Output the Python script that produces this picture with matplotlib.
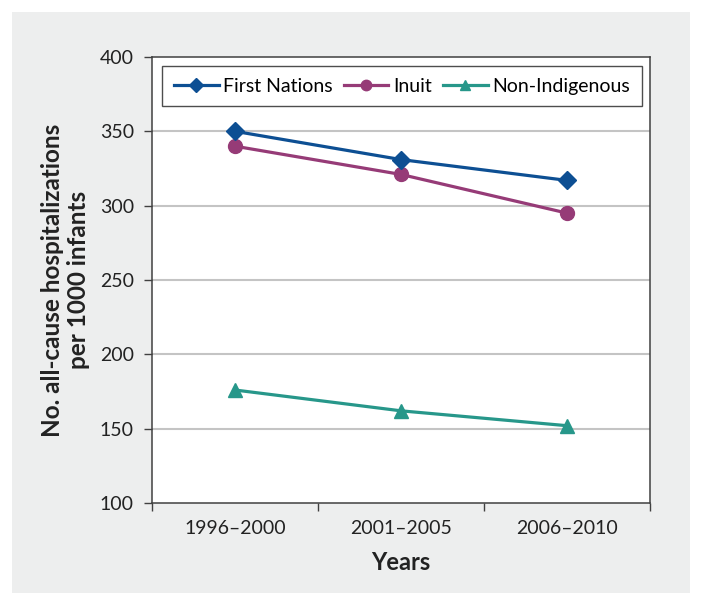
import matplotlib.pyplot as plt
from matplotlib.patches import Rectangle

# data
periods = ["1996\u20132000", "2001\u20132005", "2006\u20132010"]
first_nations = [350, 331, 317]
inuit = [340, 321, 295]
non_indigenous = [176, 162, 152]

plt.rcParams['font.family'] = ['Lato', 'DejaVu Sans']

fig = plt.figure(figsize=(7.03, 6.06), dpi=100)

# grey panel behind the plot
fig.patches.append(Rectangle((12 / 703, 1 - 593 / 606), (690 - 12) / 703, (593 - 12) / 606,
                             transform=fig.transFigure, facecolor='#edeeee',
                             edgecolor='none', zorder=-1))

ax = fig.add_axes([152 / 703, 1 - 503 / 606, (650 - 152) / 703, (503 - 57) / 606])
ax.set_facecolor('white')

x = range(len(periods))
ax.plot(x, first_nations, color='#0d4f93', lw=2.3, marker='D', ms=9, label='First Nations', zorder=4)
ax.plot(x, inuit, color='#963b77', lw=2.3, marker='o', ms=10, label='Inuit', zorder=3)
ax.plot(x, non_indigenous, color='#27978a', lw=2.3, marker='^', ms=10, label='Non-Indigenous', zorder=3)

ax.set_ylim(100, 400)
ax.set_yticks([100, 150, 200, 250, 300, 350, 400])
ax.set_xlim(-0.5, 2.5)
ax.set_xticks([-0.5, 0.5, 1.5, 2.5])
ax.set_xticklabels([])
ax.set_xticks(list(x), minor=True)
ax.set_xticklabels(periods, minor=True)
ax.tick_params(axis='x', which='minor', length=0, pad=12, labelsize=14, colors='#222222')
ax.tick_params(axis='x', which='major', length=6, width=1, color='#404040')
ax.tick_params(axis='y', length=6, width=1, color='#404040', pad=7, labelsize=14, labelcolor='#222222')

for y in [150, 200, 250, 300, 350]:
    ax.axhline(y, color='#c4c4c4', lw=1.5, zorder=1)

for s in ax.spines.values():
    s.set_color('#404040')
    s.set_linewidth(1.1)

ax.set_xlabel('Years', fontsize=17, fontweight='bold', labelpad=10, color='#222222')
ax.set_ylabel('No. all-cause hospitalizations\nper 1000 infants', fontsize=17.5,
              fontweight='bold', labelpad=7, color='#222222', linespacing=1.15)

leg = ax.legend(loc='upper center', bbox_to_anchor=(0.502, 0.98),
                borderaxespad=0, ncol=3, fontsize=14, frameon=True, fancybox=False,
                edgecolor='#222222', markerscale=0.75, handlelength=2.3,
                handletextpad=0.25, columnspacing=0.55, borderpad=0.6)
leg.get_frame().set_linewidth(1.0)

fig.savefig('out.png', dpi=100)
